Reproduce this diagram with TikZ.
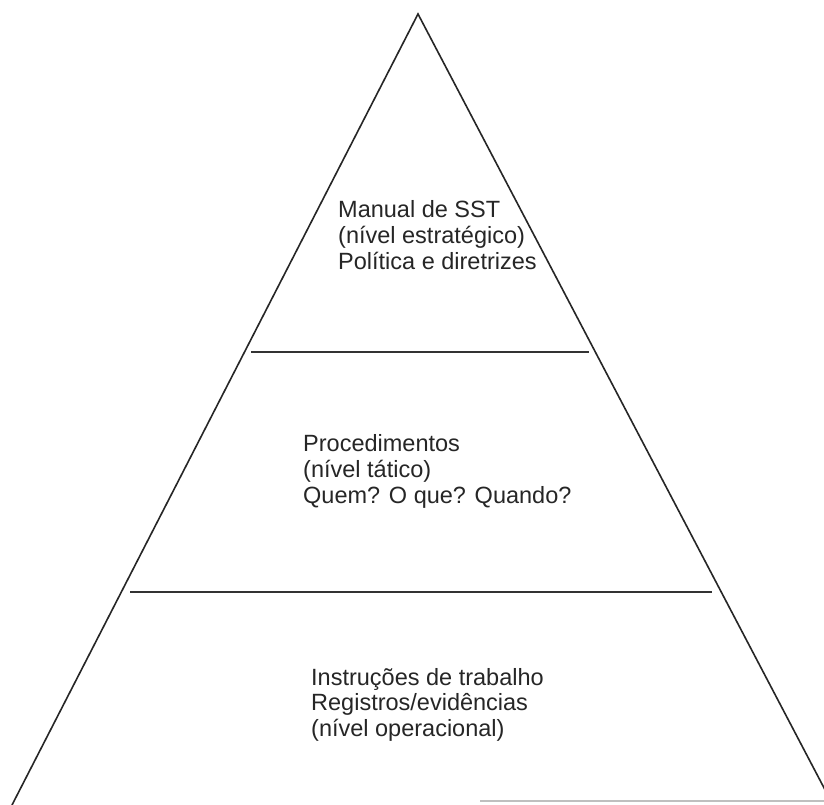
\documentclass[tikz,border=0pt]{standalone}
\usepackage{fontspec}
\setmainfont{Liberation Sans}
\begin{document}
\begin{tikzpicture}[x=1pt,y=-1pt,
  edge/.style={line width=1.6pt, black!85},
  divider/.style={line width=1.6pt, black!80},
  label/.style={anchor=base west, inner sep=0pt, font=\fontsize{23.5}{26}\selectfont, text=black!85}]
\useasboundingbox (0,0) rectangle (824,805);
\fill[white] (0,0) rectangle (824,805);
\begin{scope}
\clip (0,0) rectangle (824,805);
% pyramid sides, running off the page at the bottom
\coordinate (apex) at (418,14);
\coordinate (bl) at (12,805);
\coordinate (br) at (833,805);
\draw[edge, line join=miter] (bl) -- (apex) -- (br);
% faint sheet edge along the bottom
\draw[black!25, line width=1.2pt] (480,801) -- (824,801);
\end{scope}
% level dividers
\draw[divider] (251,352) -- (589,352);
\draw[divider] (130,592) -- (712,592);
% top level
\node[label] (t1) at (338,217) {Manual de SST};
\node[label] (t2) at (338,243) {(nível estratégico)};
\node[label] (t3) at (338,269) {Política e diretrizes};
% middle level
\node[label] (m1) at (303,451) {Procedimentos};
\node[label] (m2) at (303,477) {(nível tático)};
\node[label] (m3) at (303,503) {Quem? O que? Quando?};
% bottom level
\node[label] (b1) at (311,685) {Instruções de trabalho};
\node[label] (b2) at (311,710) {Registros/evidências};
\node[label] (b3) at (311,736) {(nível operacional)};
\end{tikzpicture}
\end{document}
